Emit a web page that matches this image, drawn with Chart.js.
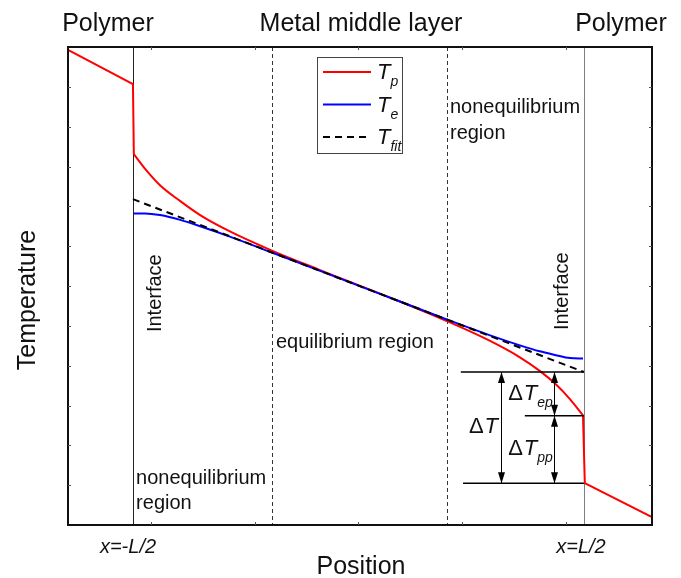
<!DOCTYPE html>
<html>
<head>
<meta charset="utf-8">
<script src="https://cdn.jsdelivr.net/npm/chart.js@4.4.0/dist/chart.umd.min.js"></script>
<style>
    body { margin: 0; background: #fff; }
    canvas { display: block; }
</style>
</head>
<body>
<canvas id="chart" width="681" height="578"></canvas>
<script>
// Position: x = -0.5 and x = 0.5 are the two interfaces (x=-L/2, x=L/2)
// Temperature: arbitrary units, 0..12

// Polymer on the left (T_p only)
const polyLeftX = [-0.644, -0.500, -0.498];
const polyLeftTp = [11.93, 11.07, 9.31];

// Metal middle layer
const metalX = [-0.498, -0.473, -0.440, -0.395, -0.351, -0.285, -0.192, -0.085, 0.092, 0.196, 0.292, 0.358, 0.402, 0.436, 0.469, 0.498];
const metalTp = [9.31, 8.94, 8.53, 8.13, 7.78, 7.37, 6.89, 6.40, 5.61, 5.12, 4.62, 4.21, 3.87, 3.55, 3.16, 2.75];
const metalTe = [7.82, 7.82, 7.78, 7.66, 7.50, 7.24, 6.84, 6.38, 5.61, 5.16, 4.76, 4.51, 4.36, 4.27, 4.19, 4.18];

// Polymer on the right (T_p only)
const polyRightX = [0.498, 0.502, 0.651];
const polyRightTp = [2.75, 1.05, 0.20];

// Linear fit of the equilibrium region
const fitX = [-0.5, 0.5];
const fitT = [8.18, 3.84];

// Region borders
const interfaceX = [-0.5, 0.5];
const equilibriumX = [-0.192, 0.196];

// Temperature-jump levels at x = L/2: fit end, T_p in metal, T_p in polymer
const jumpLevels = [3.84, 2.74, 1.05];

// Tick positions (unlabelled)
const xTicks = [-0.46, -0.23, 0, 0.23, 0.46];
const yTicks = [1, 2, 3, 4, 5, 6, 7, 8, 9, 10, 11];

const pts = (xs, ys) => xs.map((v, i) => ({ x: v, y: ys[i] }));

const FONT = '"Liberation Sans", Arial, Helvetica, sans-serif';

// Draw a symbol like ΔT_ep: optional upright prefix, italic main letter, italic subscript
const drawSymbol = (ctx, x, base, prefix, main, sub, size, subSize) => {
    ctx.textAlign = 'left';
    ctx.textBaseline = 'alphabetic';
    let cx = x;
    if (prefix) {
        ctx.font = `${size}px ${FONT}`;
        ctx.fillText(prefix, cx, base);
        cx += ctx.measureText(prefix).width + 1;
    }
    ctx.font = `italic ${size}px ${FONT}`;
    ctx.fillText(main, cx, base);
    cx += ctx.measureText(main).width;
    if (sub) {
        ctx.font = `italic ${subSize}px ${FONT}`;
        ctx.fillText(sub, cx, base + subSize * 0.5);
    }
};

const arrowHead = (ctx, x, tipY, dir) => {
    // dir = -1 points up, 1 points down
    ctx.beginPath();
    ctx.moveTo(x, tipY);
    ctx.lineTo(x - 3.5, tipY - dir * 11);
    ctx.lineTo(x + 3.5, tipY - dir * 11);
    ctx.closePath();
    ctx.fill();
};

const schematic = {
    id: 'schematic',
    beforeDatasetsDraw(chart) {
        const { ctx, chartArea: a, scales: { x } } = chart;
        ctx.save();

        // interfaces
        ctx.lineWidth = 1;
        ctx.strokeStyle = '#222';
        let px = Math.round(x.getPixelForValue(interfaceX[0])) + 0.5;
        ctx.beginPath(); ctx.moveTo(px, a.top); ctx.lineTo(px, a.bottom); ctx.stroke();
        ctx.strokeStyle = '#808080';
        px = Math.round(x.getPixelForValue(interfaceX[1])) + 0.5;
        ctx.beginPath(); ctx.moveTo(px, a.top); ctx.lineTo(px, a.bottom); ctx.stroke();

        // equilibrium region borders
        ctx.strokeStyle = '#333';
        ctx.setLineDash([4, 3]);
        equilibriumX.forEach(v => {
            const p = Math.round(x.getPixelForValue(v)) + 0.5;
            ctx.beginPath(); ctx.moveTo(p, a.top); ctx.lineTo(p, a.bottom); ctx.stroke();
        });
        ctx.restore();
    },
    afterDatasetsDraw(chart) {
        const { ctx, chartArea: a, scales: { x, y } } = chart;
        const X = v => x.getPixelForValue(v);
        const Y = v => y.getPixelForValue(v);
        ctx.save();

        // frame
        ctx.strokeStyle = '#111';
        ctx.lineWidth = 2;
        ctx.strokeRect(a.left, a.top, a.right - a.left, a.bottom - a.top);

        // inward ticks on all four sides
        ctx.strokeStyle = '#555';
        ctx.lineWidth = 1;
        ctx.beginPath();
        xTicks.forEach(v => {
            const p = Math.round(X(v)) + 0.5;
            ctx.moveTo(p, a.bottom); ctx.lineTo(p, a.bottom - 3);
            ctx.moveTo(p, a.top); ctx.lineTo(p, a.top + 3);
        });
        yTicks.forEach(v => {
            const p = Math.round(Y(v)) + 0.5;
            ctx.moveTo(a.left, p); ctx.lineTo(a.left + 3, p);
            ctx.moveTo(a.right, p); ctx.lineTo(a.right - 3, p);
        });
        ctx.stroke();

        // temperature-jump construction at x = L/2
        ctx.strokeStyle = '#000';
        ctx.fillStyle = '#000';
        ctx.lineWidth = 1.5;
        const [yTop, yMid, yBot] = jumpLevels.map(Y);
        const xEnd = X(interfaceX[1]);
        ctx.beginPath();
        ctx.moveTo(X(0.227), yTop); ctx.lineTo(xEnd, yTop);
        ctx.moveTo(X(0.369), yMid); ctx.lineTo(xEnd, yMid);
        ctx.moveTo(X(0.232), yBot); ctx.lineTo(xEnd, yBot);
        ctx.stroke();

        ctx.lineWidth = 1;
        const xDT = Math.round(X(0.316)) + 0.5;
        const xDs = Math.round(X(0.4335)) + 0.5;
        ctx.beginPath();
        ctx.moveTo(xDT, yTop); ctx.lineTo(xDT, yBot);
        ctx.moveTo(xDs, yTop); ctx.lineTo(xDs, yBot);
        ctx.stroke();
        arrowHead(ctx, xDT, yTop, -1);
        arrowHead(ctx, xDT, yBot, 1);
        arrowHead(ctx, xDs, yTop, -1);
        arrowHead(ctx, xDs, yMid, 1);
        arrowHead(ctx, xDs, yMid, -1);
        arrowHead(ctx, xDs, yBot, 1);

        ctx.fillStyle = '#111';
        drawSymbol(ctx, X(0.245), Y(2.31), '\u0394', 'T', '', 22, 14);
        drawSymbol(ctx, X(0.332), Y(3.14), '\u0394', 'T', 'ep', 22, 14);
        drawSymbol(ctx, X(0.332), Y(1.76), '\u0394', 'T', 'pp', 22, 14);

        // region / interface labels
        ctx.font = `20px ${FONT}`;
        ctx.textBaseline = 'middle';
        ctx.textAlign = 'left';
        ctx.fillText('equilibrium region', X(-0.183), Y(4.57));
        ctx.fillText('nonequilibrium', X(0.203), Y(10.47));
        ctx.fillText('region', X(0.203), Y(9.84));
        ctx.fillText('nonequilibrium', X(-0.493), Y(1.18));
        ctx.fillText('region', X(-0.493), Y(0.55));

        ctx.textAlign = 'center';
        [[-0.451, 5.82], [0.453, 5.87]].forEach(([vx, vy]) => {
            ctx.save();
            ctx.translate(X(vx), Y(vy));
            ctx.rotate(-Math.PI / 2);
            ctx.fillText('Interface', 0, 0);
            ctx.restore();
        });

        // legend
        ctx.strokeStyle = '#444';
        ctx.lineWidth = 1;
        ctx.strokeRect(317.5, 57.5, 85, 96);
        const rows = [
            { color: '#ff0000', dash: [], sub: 'p' },
            { color: '#0000ff', dash: [], sub: 'e' },
            { color: '#000000', dash: [7, 5], sub: 'fit' }
        ];
        rows.forEach((r, i) => {
            const ly = 72 + i * 32.5;
            ctx.strokeStyle = r.color;
            ctx.lineWidth = 2;
            ctx.setLineDash(r.dash);
            ctx.beginPath(); ctx.moveTo(323, ly); ctx.lineTo(371, ly); ctx.stroke();
            ctx.setLineDash([]);
            ctx.fillStyle = '#111';
            drawSymbol(ctx, 377, ly + 7, '', 'T', r.sub, 22, 14);
        });

        // titles outside the frame
        ctx.fillStyle = '#111';
        ctx.font = `25px ${FONT}`;
        ctx.textAlign = 'center';
        ctx.textBaseline = 'middle';
        ctx.fillText('Polymer', 108, 24);
        ctx.fillText('Metal middle layer', 361, 24);
        ctx.fillText('Polymer', 621, 24);
        ctx.fillText('Position', 361, 567);
        ctx.save();
        ctx.translate(28, 300);
        ctx.rotate(-Math.PI / 2);
        ctx.fillText('Temperature', 0, 0);
        ctx.restore();

        ctx.font = `italic 20px ${FONT}`;
        ctx.fillText('x=-L/2', 128, 547);
        ctx.fillText('x=L/2', 581, 547);

        ctx.restore();
    }
};

new Chart(document.getElementById('chart'), {
    type: 'line',
    data: {
        datasets: [
            {
                label: 'T_fit',
                data: pts(fitX, fitT),
                borderColor: '#000',
                borderWidth: 2,
                borderDash: [7, 5],
                order: 0
            },
            {
                label: 'T_e',
                data: pts(metalX, metalTe),
                borderColor: '#0000ff',
                borderWidth: 2,
                cubicInterpolationMode: 'monotone',
                order: 1
            },
            {
                label: 'T_p',
                data: pts(metalX, metalTp),
                borderColor: '#ff0000',
                borderWidth: 2,
                cubicInterpolationMode: 'monotone',
                order: 2
            },
            {
                label: 'T_p left',
                data: pts(polyLeftX, polyLeftTp),
                borderColor: '#ff0000',
                borderWidth: 2,
                order: 2
            },
            {
                label: 'T_p right',
                data: pts(polyRightX, polyRightTp),
                borderColor: '#ff0000',
                borderWidth: 2,
                order: 2
            }
        ]
    },
    options: {
        responsive: false,
        animation: false,
        elements: { point: { radius: 0 }, line: { tension: 0 } },
        layout: { padding: { left: 68, right: 29, top: 47, bottom: 53 } },
        plugins: { legend: { display: false }, tooltip: { enabled: false } },
        scales: {
            x: { type: 'linear', min: -0.644, max: 0.651, display: false },
            y: { type: 'linear', min: 0, max: 12, display: false }
        }
    },
    plugins: [schematic]
});
</script>
</body>
</html>
